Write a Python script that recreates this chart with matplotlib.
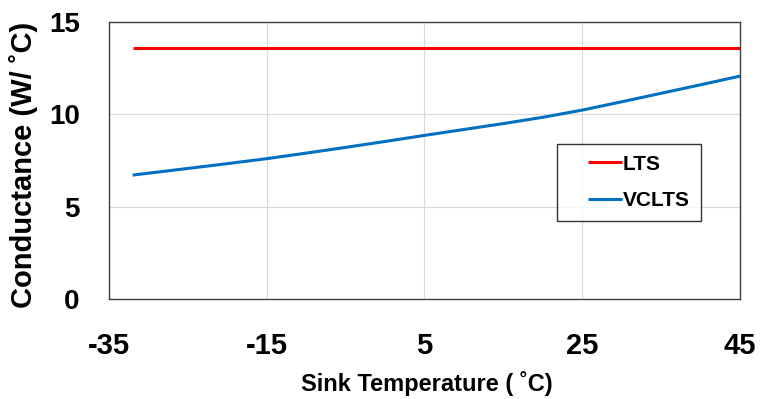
import numpy as np
import matplotlib
matplotlib.use('Agg')
import matplotlib.pyplot as plt
from matplotlib.legend_handler import HandlerLine2D

# === Data ===
temp_lts = [-32, 45]
lts = [13.6, 13.6]

temp_vclts = [-32, -25, -20, -15, -10, -5, 0, 5, 10, 15, 20, 25, 30, 35, 40, 45]
vclts = [6.71, 7.07, 7.33, 7.60, 7.90, 8.21, 8.53, 8.86, 9.18, 9.50, 9.84,
         10.23, 10.68, 11.14, 11.60, 12.07]

x_ticks = [-35, -15, 5, 25, 45]
y_ticks = [0, 5, 10, 15]

plt.rcParams['font.family'] = 'Liberation Sans'
plt.rcParams['font.weight'] = 'bold'
plt.rcParams['axes.unicode_minus'] = False


# legend line only on the right part of the handle box (text sits right after it)
class RightLine(HandlerLine2D):
    def get_xdata(self, legend, xdescent, ydescent, width, height, fontsize):
        x = np.array([0.38 * width, width]) - xdescent
        return x, x


# === Plot ===
fig = plt.figure(figsize=(7.65, 3.99), dpi=100)
ax = fig.add_axes([109 / 765, 1 - 299 / 399, 631 / 765, 277 / 399])

ax.plot(temp_lts, lts, color='#FF0000', lw=2.2, label='LTS', solid_capstyle='butt')
ax.plot(temp_vclts, vclts, color='#0070C0', lw=2.2, label='VCLTS', solid_capstyle='butt')

ax.set_xlim(-35, 45)
ax.set_ylim(0, 15)
ax.set_xticks(x_ticks)
ax.set_yticks(y_ticks)
ax.grid(True, color='#d9d9d9', lw=0.8)
ax.set_axisbelow(True)
ax.tick_params(length=0)
ax.tick_params(axis='x', pad=24, labelsize=21)
ax.tick_params(axis='y', pad=21, labelsize=20)
for s in ax.spines.values():
    s.set_color('#404040')
    s.set_linewidth(1.0)

fig.text(427 / 765, 1 - 384 / 399, 'Sink Temperature ( ˚C)', ha='center', va='center',
         fontweight='bold', fontsize=17)
fig.text(24 / 765, 1 - 165 / 399, 'Conductance (W/ ˚C)', ha='center', va='center',
         rotation=90, fontweight='bold', fontsize=21)

leg = ax.legend(loc='center', bbox_to_anchor=((629 - 109) / 631, (299 - 182.5) / 277),
                prop={'weight': 'bold', 'size': 15},
                handler_map={matplotlib.lines.Line2D: RightLine()},
                frameon=True, fancybox=False, edgecolor='black', handlelength=2.6,
                handletextpad=0.05, borderpad=0.5, labelspacing=0.85, borderaxespad=0)
leg.get_frame().set_linewidth(1.0)

fig.savefig('out.png', dpi=100)
